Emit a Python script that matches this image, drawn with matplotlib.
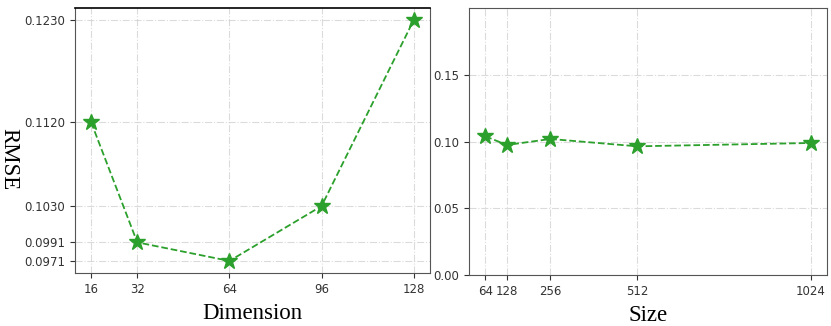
import matplotlib
matplotlib.use('Agg')
import matplotlib.pyplot as plt

# data
dims = [16, 32, 64, 96, 128]
dim_rmse = [0.1120, 0.0991, 0.0971, 0.1030, 0.1230]
dim_ticks = [0.0971, 0.0991, 0.1030, 0.1120, 0.1230]

sizes = [64, 128, 256, 512, 1024]
size_rmse = [0.1040, 0.0975, 0.1020, 0.0965, 0.0990]
size_ticks = [0.0, 0.05, 0.10, 0.15]

green = '#2ca02c'
serif = ['Liberation Serif', 'DejaVu Serif']

fig = plt.figure(figsize=(8.31, 3.26), dpi=100)
ax1 = fig.add_axes([0.0903, 0.1626, 0.427, 0.813])
ax2 = fig.add_axes([0.5644, 0.156, 0.431, 0.819])

for ax in (ax1, ax2):
    for s in ax.spines.values():
        s.set_color('#555555')
    ax.tick_params(labelsize=8.5, colors='#333333', length=3.5)
    ax.grid(True, linestyle='-.', color='#cccccc', alpha=0.7, linewidth=0.8)
    ax.set_axisbelow(True)

ax1.spines['top'].set_color('black')
ax1.spines['top'].set_linewidth(1.2)

# left: embedding dimension
ax1.plot(dims, dim_rmse, linestyle='--', marker='*', color=green,
         markersize=12, linewidth=1.3)
ax1.set_xticks(dims)
ax1.set_yticks(dim_ticks)
ax1.set_yticklabels([f'{v:.4f}' for v in dim_ticks])
ax1.set_xlabel('Dimension', fontsize=16.5, family=serif, labelpad=5)
ax1.set_ylabel('RMSE', fontsize=16.5, family=serif, rotation=270,
               va='center', ha='center')
ax1.yaxis.set_label_coords(-0.186, 0.43)

# right: size
ax2.plot(sizes, size_rmse, linestyle='--', marker='*', color=green,
         markersize=12, linewidth=1.3)
ax2.set_xticks(sizes)
ax2.set_ylim(0, 0.2)
ax2.set_yticks(size_ticks)
ax2.set_yticklabels([f'{v:.2f}' for v in size_ticks])
ax2.set_xlabel('Size', fontsize=16.5, family=serif, labelpad=5)

plt.savefig('out.png', dpi=100)
